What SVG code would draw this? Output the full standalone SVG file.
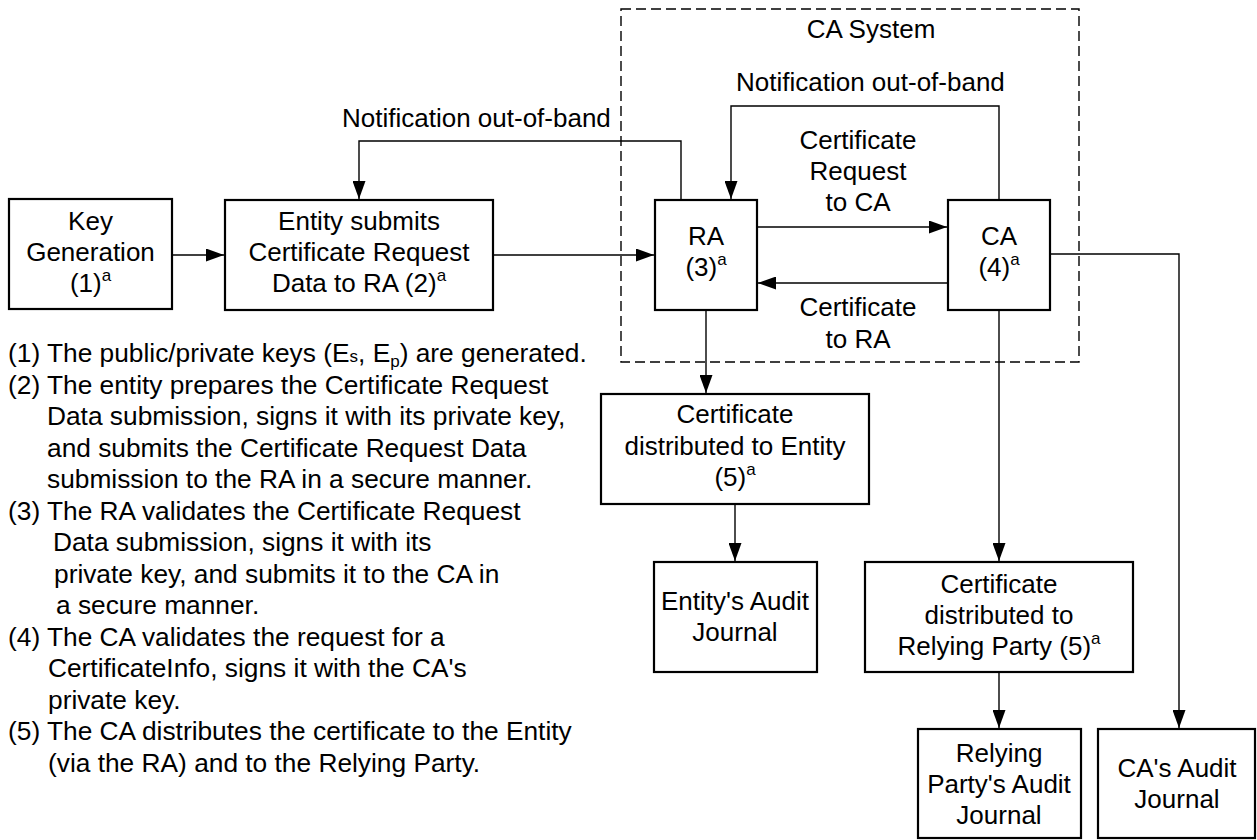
<svg xmlns="http://www.w3.org/2000/svg" width="1257" height="840" viewBox="0 0 1257 840">
<style>
text{font-family:"Liberation Sans",Arial,sans-serif;font-size:26px;fill:#000}
#notes text{font-size:26.3px}
.c{text-anchor:middle}
.box{fill:#fff;stroke:#000;stroke-width:2.2}
.ln{fill:none;stroke:#000;stroke-width:1.4}
.dash{fill:none;stroke:#000;stroke-width:1.4;stroke-dasharray:10 5}
.sup{font-size:17px}
#notes .sup{font-size:17px}
</style>
<defs>
<marker id="arr" viewBox="0 0 18 13" refX="18" refY="6.5" markerWidth="18" markerHeight="13" orient="auto" markerUnits="userSpaceOnUse"><path d="M0,0 L18,6.5 L0,13 z" fill="#000"/></marker>
</defs>
<rect width="1257" height="840" fill="#fff"/>
<g id="ca-system">
<rect class="dash" x="621" y="9" width="458" height="353"/>
<text class="c" x="871" y="38">CA System</text>
</g>
<g id="connectors">
<path class="ln" d="M172,255 H224" marker-end="url(#arr)"/>
<path class="ln" d="M493,255 H654" marker-end="url(#arr)"/>
<path class="ln" d="M681,200 V141 H359 V199" marker-end="url(#arr)"/>
<path class="ln" d="M999,200 V106 H731 V199" marker-end="url(#arr)"/>
<path class="ln" d="M757,227 H947" marker-end="url(#arr)"/>
<path class="ln" d="M948,283 H758" marker-end="url(#arr)"/>
<path class="ln" d="M706,310 V393" marker-end="url(#arr)"/>
<path class="ln" d="M735,504 V561" marker-end="url(#arr)"/>
<path class="ln" d="M999,310 V561" marker-end="url(#arr)"/>
<path class="ln" d="M999,672 V728" marker-end="url(#arr)"/>
<path class="ln" d="M1050,254 H1179 V728" marker-end="url(#arr)"/>
<text x="342" y="127">Notification out-of-band</text>
<text x="736" y="91">Notification out-of-band</text>
<text class="c" x="858" y="149">Certificate</text>
<text class="c" x="858" y="180">Request</text>
<text class="c" x="858" y="211">to CA</text>
<text class="c" x="858" y="316">Certificate</text>
<text class="c" x="858" y="348">to RA</text>
</g>
<g id="key-generation">
<rect class="box" x="9" y="199" width="163" height="110"/>
<text class="c" x="90.5" y="230">Key</text>
<text class="c" x="90.5" y="261">Generation</text>
<text class="c" x="90.5" y="292">(1)<tspan class="sup" dy="-11">a</tspan></text>
</g>
<g id="entity-submits">
<rect class="box" x="225" y="200" width="268" height="110"/>
<text class="c" x="359" y="230">Entity submits</text>
<text class="c" x="359" y="261">Certificate Request</text>
<text class="c" x="359" y="292">Data to RA (2)<tspan class="sup" dy="-11">a</tspan></text>
</g>
<g id="ra">
<rect class="box" x="655" y="200" width="102" height="110"/>
<text class="c" x="706" y="245">RA</text>
<text class="c" x="706" y="276">(3)<tspan class="sup" dy="-11">a</tspan></text>
</g>
<g id="ca">
<rect class="box" x="948" y="200" width="102" height="110"/>
<text class="c" x="999" y="245">CA</text>
<text class="c" x="999" y="276">(4)<tspan class="sup" dy="-11">a</tspan></text>
</g>
<g id="cert-entity">
<rect class="box" x="601" y="394" width="268" height="110"/>
<text class="c" x="735" y="423">Certificate</text>
<text class="c" x="735" y="455">distributed to Entity</text>
<text class="c" x="735" y="486">(5)<tspan class="sup" dy="-11">a</tspan></text>
</g>
<g id="entity-audit">
<rect class="box" x="654" y="562" width="163" height="110"/>
<text class="c" x="735" y="610">Entity's Audit</text>
<text class="c" x="735" y="641">Journal</text>
</g>
<g id="cert-rp">
<rect class="box" x="865" y="562" width="268" height="110"/>
<text class="c" x="999" y="593">Certificate</text>
<text class="c" x="999" y="624">distributed to</text>
<text class="c" x="999" y="655">Relying Party (5)<tspan class="sup" dy="-11">a</tspan></text>
</g>
<g id="rp-audit">
<rect class="box" x="918" y="729" width="163" height="109"/>
<text class="c" x="999" y="762">Relying</text>
<text class="c" x="999" y="793">Party's Audit</text>
<text class="c" x="999" y="824">Journal</text>
</g>
<g id="ca-audit">
<rect class="box" x="1098" y="729" width="157" height="109"/>
<text class="c" x="1177" y="777">CA's Audit</text>
<text class="c" x="1177" y="808">Journal</text>
</g>
<g id="notes">
<text x="8" y="362">(1) The public/private keys (E<tspan class="sup">s</tspan>, E<tspan class="sup" dy="5">p</tspan><tspan dy="-5">) are generated.</tspan></text>
<text x="8" y="393.5">(2) The entity prepares the Certificate Request</text>
<text x="47" y="425">Data submission, signs it with its private key,</text>
<text x="47" y="456.5">and submits the Certificate Request Data</text>
<text x="47" y="488">submission to the RA in a secure manner.</text>
<text x="8" y="519.5">(3) The RA validates the Certificate Request</text>
<text x="53" y="551">Data submission, signs it with its</text>
<text x="54" y="582.5">private key, and submits it to the CA in</text>
<text x="56" y="614">a secure manner.</text>
<text x="8" y="645.5">(4) The CA validates the request for a</text>
<text x="48" y="677">CertificateInfo, signs it with the CA's</text>
<text x="48" y="708.5">private key.</text>
<text x="8" y="740">(5) The CA distributes the certificate to the Entity</text>
<text x="48" y="771.5">(via the RA) and to the Relying Party.</text>
</g>
</svg>
